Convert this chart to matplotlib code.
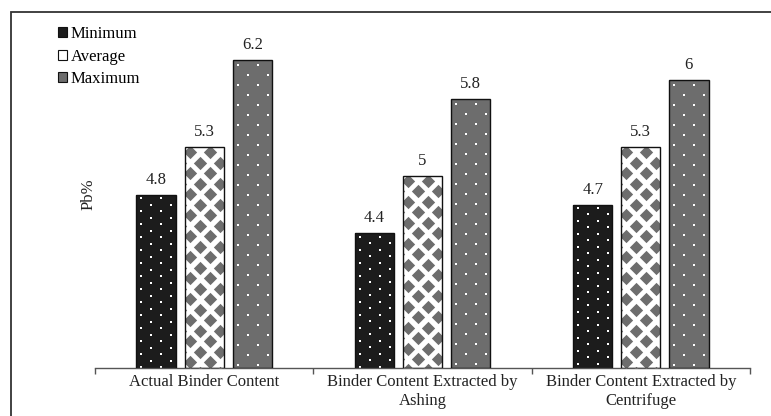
import numpy as np
import matplotlib.pyplot as plt
from matplotlib.patches import Patch, Rectangle

plt.rcParams['font.family'] = ['Liberation Serif', 'DejaVu Serif']
plt.rcParams['font.size'] = 12

# Data
# -----------------------------
categories = ['Actual Binder Content',
              'Binder Content Extracted by\nAshing',
              'Binder Content Extracted by\nCentrifuge']
series = ['Minimum', 'Average', 'Maximum']
minimum = [4.8, 4.4, 4.7]
average = [5.3, 5.0, 5.3]
maximum = [6.2, 5.8, 6.0]

faces = ['#1c1c1c', 'white', '#6d6d6d']
patterns = ['dense', 'diamond', 'sparse']

W, H = 771, 416
fig = plt.figure(figsize=(W / 100, H / 100), dpi=100)
ax = fig.add_axes([95 / W, 1 - 368 / H, 655 / W, 348 / H])
ax.set_xlim(-0.5, 2.5)
ax.set_ylim(3, 6.62)

x = np.arange(len(categories))
width = 0.18
step = 0.22


def texture(bar, kind):
    # lay a lattice of small marks out in pixels, then map it back to data units
    (px0, py0), (px1, py1) = ax.transData.transform(
        [(bar.get_x(), bar.get_y()),
         (bar.get_x() + bar.get_width(), bar.get_y() + bar.get_height())])
    if kind == 'dense':
        dx, dy, marker, size, color = 20, 6.5, 's', 3.5, 'white'
    elif kind == 'sparse':
        dx, dy, marker, size, color = 20, 10, 's', 3.5, 'white'
    else:
        dx, dy, marker, size, color = 20, 10.5, 'D', 46, '#6d6d6d'
    pts = []
    for i, yy in enumerate(np.arange(py1 - dy / 2, py0 - dy, -dy)):
        shift = dx / 2 if i % 2 else 0
        for xx in np.arange(px0 + 5 + shift - dx, px1 + dx, dx):
            pts.append((xx, yy))
    pts = ax.transData.inverted().transform(pts)
    coll = ax.scatter(pts[:, 0], pts[:, 1], s=size, marker=marker,
                      color=color, linewidths=0, zorder=3)
    coll.set_clip_path(bar)


for k, (name, vals) in enumerate(zip(series, [minimum, average, maximum])):
    pos = x + (k - 1) * step
    bars = ax.bar(pos, np.array(vals) - 3, width, bottom=3,
                  color=faces[k], edgecolor='none', zorder=2)
    for b in bars:
        texture(b, patterns[k])
    ax.bar(pos, np.array(vals) - 3, width, bottom=3, fill=False,
           edgecolor='#111111', linewidth=1, zorder=4)
    for xp, v in zip(pos, vals):
        ax.annotate(f'{v:g}', (xp, v), xytext=(0, 5), textcoords='offset points',
                    ha='center', va='bottom', fontsize=12, color='#222222')

# Axes styling
# -----------------------------
for side in ['left', 'top', 'right']:
    ax.spines[side].set_visible(False)
ax.spines['bottom'].set_color('#555555')
ax.spines['bottom'].set_linewidth(1)
ax.set_yticks([])
ax.set_xticks(x, categories, fontsize=12, color='#222222', linespacing=1.25)
ax.set_xticks([-0.5, 0.5, 1.5, 2.5], minor=True)
ax.tick_params(axis='x', which='major', length=0, pad=4.5)
ax.tick_params(axis='x', which='minor', length=4, width=1, color='#555555')
ax.set_ylabel('Pb%', fontsize=12, color='#222222')
ax.yaxis.set_label_coords(2 / 655, 0.5)

handles = [Patch(facecolor=f, edgecolor='#111111', linewidth=0.8) for f in faces]
ax.legend(handles, series, loc='upper left', bbox_to_anchor=(58 / W, 1 - 26 / H),
          bbox_transform=fig.transFigure, frameon=False, fontsize=12,
          handlelength=0.55, handleheight=0.55, handletextpad=0.2,
          labelspacing=0.4, borderpad=0, borderaxespad=0)

# outer frame, only its top and left edges fall inside the image
fig.add_artist(Rectangle((11 / W, -0.2), 2, 1.2 - 12 / H, transform=fig.transFigure,
                         fill=False, edgecolor='#333333', linewidth=1.3))

fig.savefig('out.png', dpi=100)
